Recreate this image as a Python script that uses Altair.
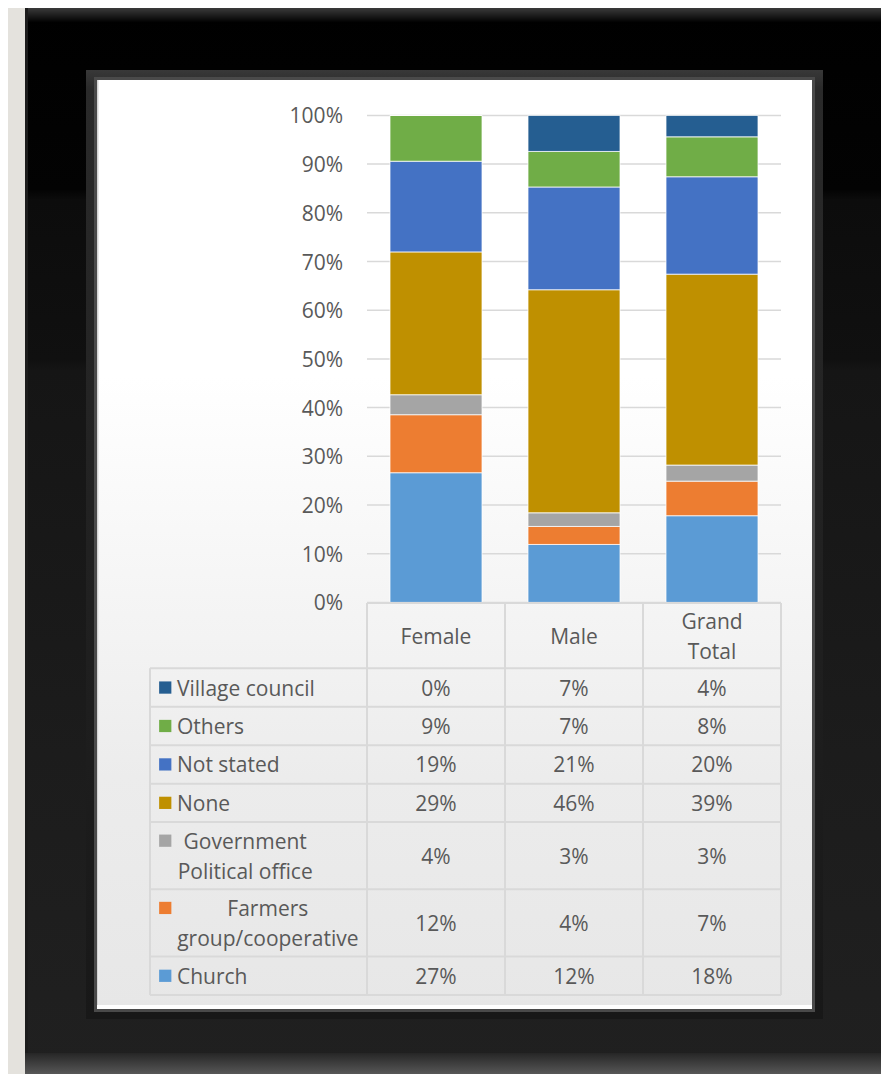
import altair as alt
import pandas as pd

# ---------------- data ----------------
groups = ["Female", "Male", "Grand Total"]
header_texts = ["Female", "Male", "Grand\nTotal"]
categories = ["Church", "Farmers group/cooperative", "Government Political office",
              "None", "Not stated", "Others", "Village council"]
row_labels = ["Church", "Farmers\ngroup/cooperative", "Government\nPolitical office",
              "None", "Not stated", "Others", "Village council"]
colors = ["#5B9BD5", "#ED7D31", "#A5A5A5", "#BF9000", "#4472C4", "#70AD47", "#255E91"]
female = [26.6, 11.9, 4.1, 29.3, 18.6, 9.4, 0.0]
male = [11.9, 3.7, 2.8, 45.8, 21.1, 7.3, 7.4]
grand_total = [17.8, 7.1, 3.3, 39.2, 20.0, 8.2, 4.4]
tick_values = [0.0, 0.1, 0.2, 0.3, 0.4, 0.5, 0.6, 0.7, 0.8, 0.9, 1.0]
tick_labels = ["0%", "10%", "20%", "30%", "40%", "50%", "60%", "70%", "80%", "90%", "100%"]

# ---------------- style / layout ----------------
FONT = "Open Sans"
FS = 21
DY = 2
TXT = "#595959"
LINE_H = 30
GRID = "#d9d9d9"
W, H = 873, 1066
COL_X = [359, 773]          # pixel extent of the three data columns
PCT_Y = [594.4, 107.4]      # 0% .. 100%
TAB_Y = [595, 987]          # table top .. bottom
HEADER_U = 1.7
DOUBLE_U = 1.75
LABEL_LEFT_U = -1.5725
KEY_U = -1.462
TEXT_U = -1.377
COL_PX = (COL_X[1] - COL_X[0]) / 3

_w = {"a": .556, "b": .613, "c": .48, "d": .613, "e": .561, "f": .336, "g": .548, "h": .615,
      "i": .258, "j": .258, "k": .53, "l": .258, "m": .93, "n": .615, "o": .602, "p": .613,
      "q": .613, "r": .409, "s": .48, "t": .353, "u": .615, "v": .5, "w": .77, "x": .52,
      "y": .5, "z": .47, " ": .26, "/": .37}


def text_w(s):
    return sum(_w.get(ch, 0.64) for ch in s) * FS


series = {"Female": female, "Male": male, "Grand Total": grand_total}
bar_rows = []
for g in groups:
    for i, (c, v) in enumerate(zip(categories, series[g])):
        bar_rows.append({"group": g, "category": c, "value": v, "order": i})
bar_df = pd.DataFrame(bar_rows)

rows = []
ycur = HEADER_U
for i in range(len(categories) - 1, -1, -1):
    n = row_labels[i].count("\n") + 1
    h = 1.0 if n == 1 else DOUBLE_U
    rows.append(dict(idx=i, category=categories[i], label=row_labels[i], n=n,
                     top=ycur, bottom=ycur + h, mid=ycur + h / 2))
    ycur += h
TOTAL_U = ycur
PX_PER_U = (TAB_Y[1] - TAB_Y[0]) / TOTAL_U


def first_line(mid, n):
    # y (in row units) of the first line of an n-line block centred on mid
    return mid - (n - 1) * LINE_H / 2 / PX_PER_U


val_rows = []
for r in rows:
    for g in groups:
        v = series[g][r["idx"]]
        val_rows.append({"group": g, "mid": r["mid"], "text": f"{round(v)}%"})
val_df = pd.DataFrame(val_rows)

key_df = pd.DataFrame([{"category": r["category"], "ky": first_line(r["mid"], r["n"])} for r in rows])
lab1_df = pd.DataFrame([{"label": r["label"], "mid": r["mid"]} for r in rows if r["n"] == 1])
lab2_df = pd.DataFrame([{"label": r["label"], "ty": first_line(r["mid"], r["n"]),
                         "xc": TEXT_U + max(text_w(s) for s in r["label"].split("\n")) / 2 / COL_PX}
                        for r in rows if r["n"] > 1])

h_rows = [{"y": 0.0, "x0": 0.0, "x1": 3.0}]
for r in rows:
    h_rows.append({"y": r["top"], "x0": LABEL_LEFT_U, "x1": 3.0})
h_rows.append({"y": TOTAL_U, "x0": LABEL_LEFT_U, "x1": 3.0})
hl_df = pd.DataFrame(h_rows)
vl_df = pd.DataFrame([{"x": float(k), "y0": 0.0, "y1": TOTAL_U} for k in range(4)] +
                     [{"x": LABEL_LEFT_U, "y0": HEADER_U, "y1": TOTAL_U}])
head_df = pd.DataFrame({"group": groups, "text": header_texts,
                        "ty": [first_line(HEADER_U / 2, t.count("\n") + 1) for t in header_texts]})
tick_df = pd.DataFrame({"v": tick_values, "t": tick_labels})

# ---------------- scales ----------------
unit_x = alt.Scale(domain=[0, 3], range=COL_X, nice=False, zero=False)
band_x = alt.Scale(domain=groups, range=COL_X, paddingInner=1 / 3, paddingOuter=1 / 6)
pct_y = alt.Scale(domain=[0, 1], range=PCT_Y, nice=False, zero=False)
row_y = alt.Scale(domain=[0, TOTAL_U], range=TAB_Y, nice=False, zero=False)
col_scale = alt.Scale(domain=categories, range=colors)

# ---------------- decoration (picture frame) ----------------
one = pd.DataFrame({"d": [0]})


def grad(stops, horizontal=False):
    return alt.Gradient(gradient="linear", x1=0, y1=0, x2=1 if horizontal else 0, y2=0 if horizontal else 1,
                        stops=[alt.GradientStop(offset=o, color=c) for o, c in stops])


def deco(x, x2, y, y2, fill):
    return alt.Chart(one).mark_rect(fill=fill, strokeWidth=0).encode(
        x=alt.value(x), x2=alt.value(x2), y=alt.value(y), y2=alt.value(y2))


decor = [
    deco(17, 873, 0, 1066, grad([(0, "#000000"), (0.17, "#030303"), (0.18, "#0c0c0c"),
                                  (0.33, "#101010"), (0.34, "#151515"), (0.7, "#1c1c1c"), (1, "#202020")])),
    deco(17, 873, 0, 14, grad([(0, "#3a3a3a"), (1, "#020202")])),
    deco(17, 20, 0, 1066, "#1c1c1c"),
    deco(17, 873, 1045, 1066, grad([(0, "#262626"), (1, "#575757")])),
    deco(78, 815, 62, 1011, grad([(0, "#383838"), (0.02, "#2a2a2a"), (1, "#181818")])),
    deco(86, 807, 69, 1004, "#4a4a4a"),
    deco(89, 804, 72, 1001, grad([(0, "#ffffff"), (0.32, "#ffffff"), (0.6, "#f3f3f3"),
                                  (0.75, "#ececec"), (1, "#e7e7e7")])),
    deco(89, 91, 72, 1001, grad([(0, "#c8c8c8"), (1, "#f4f4f4")], horizontal=True)),
    deco(89, 804, 997, 1001, "#ffffff"),
]

# ---------------- chart ----------------
txt_kw = dict(baseline="middle", font=FONT, fontSize=FS, color=TXT, dy=DY)

grid = alt.Chart(tick_df).mark_rule(color=GRID, strokeWidth=1.5).encode(
    x=alt.XDatum(0, type="quantitative", scale=unit_x, axis=None),
    x2=alt.X2Datum(3),
    y=alt.Y("v:Q", scale=pct_y, axis=None),
)
ylabels = alt.Chart(tick_df).mark_text(align="right", dx=-24, **txt_kw).encode(
    x=alt.XDatum(0, type="quantitative", scale=unit_x, axis=None),
    y=alt.Y("v:Q", scale=pct_y, axis=None),
    text="t:N",
)
bars = alt.Chart(bar_df).mark_bar(stroke="white", strokeWidth=0.75).encode(
    x=alt.X("group:N", scale=band_x, axis=None, sort=groups),
    y=alt.Y("value:Q", stack="normalize", scale=pct_y, axis=None),
    color=alt.Color("category:N", scale=col_scale, legend=None),
    order=alt.Order("order:Q"),
)
hlines = alt.Chart(hl_df).mark_rule(color=GRID, strokeWidth=2).encode(
    x=alt.X("x0:Q", scale=unit_x, axis=None), x2="x1:Q",
    y=alt.Y("y:Q", scale=row_y, axis=None),
)
vlines = alt.Chart(vl_df).mark_rule(color=GRID, strokeWidth=2).encode(
    x=alt.X("x:Q", scale=unit_x, axis=None),
    y=alt.Y("y0:Q", scale=row_y, axis=None), y2="y1:Q",
)
header = alt.Chart(head_df).mark_text(align="center", lineBreak="\n", lineHeight=LINE_H, **txt_kw).encode(
    x=alt.X("group:N", scale=band_x, axis=None, sort=groups),
    y=alt.Y("ty:Q", scale=row_y, axis=None),
    text="text:N",
)
values = alt.Chart(val_df).mark_text(align="center", **txt_kw).encode(
    x=alt.X("group:N", scale=band_x, axis=None, sort=groups),
    y=alt.Y("mid:Q", scale=row_y, axis=None),
    text="text:N",
)
keys = alt.Chart(key_df).mark_square(size=150, opacity=1).encode(
    x=alt.XDatum(KEY_U, type="quantitative", scale=unit_x, axis=None),
    y=alt.Y("ky:Q", scale=row_y, axis=None),
    color=alt.Color("category:N", scale=col_scale, legend=None),
)
labels1 = alt.Chart(lab1_df).mark_text(align="left", **txt_kw).encode(
    x=alt.XDatum(TEXT_U, type="quantitative", scale=unit_x, axis=None),
    y=alt.Y("mid:Q", scale=row_y, axis=None),
    text="label:N",
)
labels2 = alt.Chart(lab2_df).mark_text(align="center", lineBreak="\n", lineHeight=LINE_H, **txt_kw).encode(
    x=alt.X("xc:Q", scale=unit_x, axis=None),
    y=alt.Y("ty:Q", scale=row_y, axis=None),
    text="label:N",
)

chart = alt.layer(*decor, grid, ylabels, bars, hlines, vlines, header, values, keys, labels1, labels2
                  ).resolve_scale(x="independent", y="independent").properties(
    width=W, height=H, padding=0, autosize=alt.AutoSizeParams(type="none"), background="#e4e2dd"
).configure_view(strokeWidth=0)

chart.save("out.html", embed_options={"renderer": "svg", "actions": False})
